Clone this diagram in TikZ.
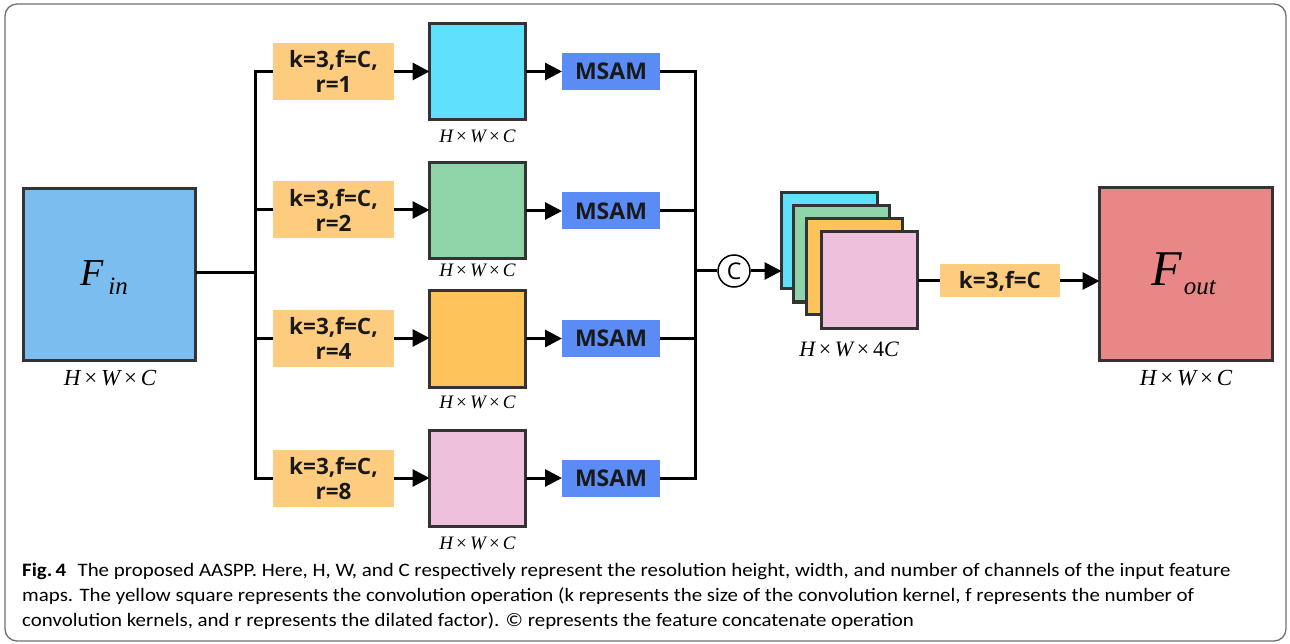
\documentclass[tikz,border=0pt]{standalone}
\usepackage{fontspec}
\setmainfont{Liberation Serif}
\newfontfamily\osans{Open Sans}
\newfontfamily\capfont{Carlito}[FakeStretch=1.1]
\usetikzlibrary{arrows.meta}
\definecolor{finc}{HTML}{7BBDEE}
\definecolor{cyanc}{HTML}{5FE1FD}
\definecolor{greenc}{HTML}{8FD4A8}
\definecolor{yellowc}{HTML}{FEC45B}
\definecolor{pinkc}{HTML}{EEC0DB}
\definecolor{foutc}{HTML}{E98686}
\definecolor{convc}{HTML}{FECC7E}
\definecolor{msamc}{HTML}{5B8CF6}
\definecolor{edgec}{HTML}{333333}
\definecolor{framec}{HTML}{707070}
\tikzset{
  fmap/.style={draw=edgec, line width=3pt, inner sep=0pt, outer sep=0pt, minimum width=96pt, minimum height=96pt},
  bigmap/.style={draw=edgec, line width=3pt, inner sep=0pt, outer sep=0pt, minimum width=172pt, minimum height=172pt},
  convbox/.style={fill=convc, inner sep=0pt, outer sep=0pt, minimum width=121pt, minimum height=57pt, align=center,
    font=\osans\bfseries\fontsize{22.5}{25}\selectfont, text=black!90},
  msambox/.style={fill=msamc, inner sep=0pt, outer sep=0pt, minimum width=98pt, minimum height=37pt,
    font=\osans\bfseries\fontsize{23}{25}\selectfont, text=black!90},
  dimlbl/.style={inner sep=0pt, font=\fontsize{19}{20}\selectfont},
  biglbl/.style={inner sep=0pt, font=\fontsize{23}{24}\selectfont},
  ln/.style={line width=3pt, draw=black},
  arr/.style={line width=3pt, draw=black, -{Triangle[length=17pt,width=17pt]}},
  captxt/.style={anchor=base west, inner sep=0pt, font=\capfont\fontsize{19}{25}\selectfont},
}
\newcommand{\HWC}{{\itshape H}\,×\,{\itshape W}\,×\,{\itshape C}}
\newcommand{\HWFC}{{\itshape H}\,×\,{\itshape W}\,×\,4{\itshape C}}
\begin{document}
\begin{tikzpicture}[x=1pt,y=-1pt]
\useasboundingbox (0,0) rectangle (1290,644);
\fill[white] (0,0) rectangle (1290,644);
\draw[framec, line width=1.3pt, rounded corners=12pt] (5,4) rectangle (1286,641);

% input
\node[bigmap, fill=finc] (fin) at (109.5,274.5) {};
\node[anchor=base west, inner sep=0pt] (finlbl) at (80,286) {\fontsize{38}{38}\selectfont\itshape F\hspace{5pt}\raisebox{-9pt}{\fontsize{25}{25}\selectfont in}};
\node[biglbl] (findim) at (110,378) {\HWC};

% conv boxes
\node[convbox] (cv1) at (333.5,71.5) {k=3,f=C,\\r=1};
\node[convbox] (cv2) at (333.5,210) {k=3,f=C,\\r=2};
\node[convbox] (cv3) at (333.5,338) {k=3,f=C,\\r=4};
\node[convbox] (cv4) at (333.5,478) {k=3,f=C,\\r=8};

% feature maps
\node[fmap, fill=cyanc] (sq1) at (477.5,71.5) {};
\node[fmap, fill=greenc] (sq2) at (477.5,211) {};
\node[fmap, fill=yellowc] (sq3) at (477.5,339) {};
\node[fmap, fill=pinkc] (sq4) at (477.5,478.5) {};
\node[dimlbl] (d1) at (477.5,136) {\HWC};
\node[dimlbl] (d2) at (477.5,270) {\HWC};
\node[dimlbl] (d3) at (477.5,402) {\HWC};
\node[dimlbl] (d4) at (477.5,543) {\HWC};

% MSAM
\node[msambox] (ms1) at (611,71.5) {MSAM};
\node[msambox] (ms2) at (611,211) {MSAM};
\node[msambox] (ms3) at (611,338.5) {MSAM};
\node[msambox] (ms4) at (611,478) {MSAM};

% junctions
\coordinate (tk) at (255,273);
\coordinate (mg) at (695,271);

\draw[ln] (fin.east |- tk) -- (tk);
\draw[ln] (cv1.west) -| (tk) |- (cv4.west);
\draw[ln] (cv2.west) -- (cv2.west -| tk);
\draw[ln] (cv3.west) -- (cv3.west -| tk);

\foreach \i in {1,2,3,4}{
  \draw[arr] (cv\i.east) -- (cv\i.east -| sq\i.west);
  \draw[arr] (sq\i.east |- ms\i.west) -- (ms\i.west);
}
\draw[ln] (ms1.east) -| (mg) |- (ms4.east);
\draw[ln] (ms2.east) -- (ms2.east -| mg);
\draw[ln] (ms3.east) -- (ms3.east -| mg);

% concat
\node[draw=black, line width=1.5pt, circle, minimum size=32pt, inner sep=0pt] (cat) at (734,271) {\osans\fontsize{23}{23}\selectfont C};
\draw[ln] (mg) -- (cat.west);

% stack
\node[fmap, fill=cyanc] (st1) at (829.5,241) {};
\node[fmap, fill=greenc] (st2) at (841,254) {};
\node[fmap, fill=yellowc] (st3) at (854.5,266.5) {};
\node[fmap, fill=pinkc] (st4) at (869.5,280) {};
\node[biglbl, font=\fontsize{22}{24}\selectfont] (stdim) at (849,349) {\HWFC};
\draw[arr] (cat.east) -- (cat.east -| st1.west);

% final conv and output
\node[convbox, minimum width=120pt, minimum height=33pt] (cv5) at (1000,281) {k=3,f=C};
\node[bigmap, fill=foutc, minimum width=173pt, minimum height=173pt] (fout) at (1186,274) {};
\node[anchor=base west, inner sep=0pt] (foutlbl) at (1151,286) {\fontsize{50}{50}\selectfont\itshape F\hspace{2pt}\raisebox{-9pt}{\fontsize{25}{25}\selectfont out}};
\node[biglbl] (foutdim) at (1186,378) {\HWC};
\draw[ln] (st4.east |- cv5.west) -- (cv5.west);
\draw[arr] (cv5.east) -- (cv5.east -| fout.west);

% caption
\node[captxt] (cap1) at (22,576)
  {\textbf{Fig.\,4}\hspace{0.6em}The proposed AASPP. Here, H, W, and C respectively represent the resolution height, width, and number of channels of the input feature};
\node[captxt] (cap2) at (22,601)
  {maps. The yellow square represents the convolution operation (k represents the size of the convolution kernel, f represents the number of};
\node[captxt] (cap3) at (22,626)
  {convolution kernels, and r represents the dilated factor). © represents the feature concatenate operation};
\end{tikzpicture}
\end{document}
